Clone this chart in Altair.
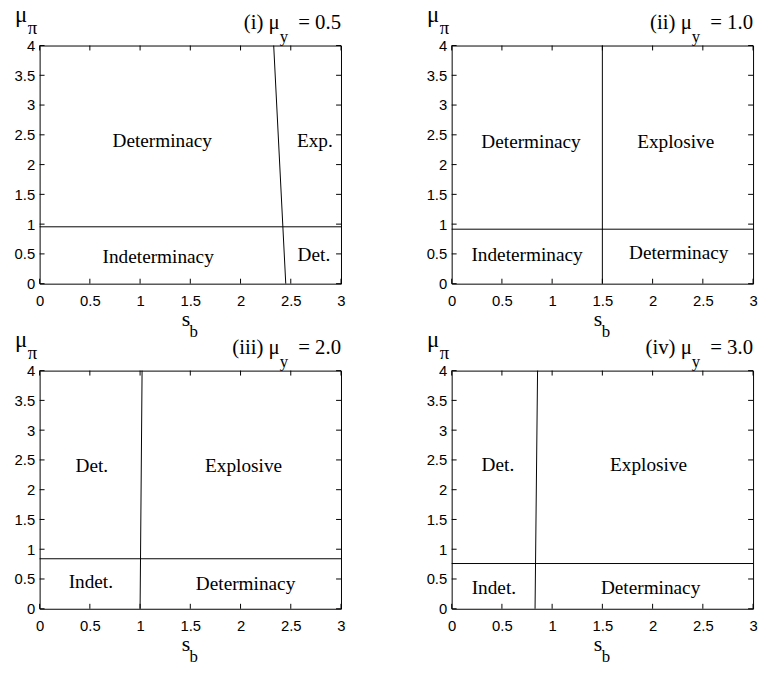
import altair as alt
import pandas as pd

# ---------------- data ----------------
x_ticks = [0, 0.5, 1, 1.5, 2, 2.5, 3]
y_ticks = [0, 0.5, 1, 1.5, 2, 2.5, 3, 3.5, 4]

panel_prefix = ["(i) μ", "(ii) μ", "(iii) μ", "(iv) μ"]
panel_mu_y = ["= 0.5", "= 1.0", "= 2.0", "= 3.0"]

# boundary between determinacy / explosive regions (s_b at mu_pi = 4 and at mu_pi = 0)
vertical_sb_top = [2.33, 1.50, 1.02, 0.855]
vertical_sb_bottom = [2.45, 1.50, 1.00, 0.83]
# boundary between determinacy / indeterminacy (mu_pi level)
horizontal_mu_pi = [0.955, 0.915, 0.84, 0.76]

region_text = [
    ["Determinacy", "Exp.", "Indeterminacy", "Det."],
    ["Determinacy", "Explosive", "Indeterminacy", "Determinacy"],
    ["Det.", "Explosive", "Indet.", "Determinacy"],
    ["Det.", "Explosive", "Indet.", "Determinacy"],
]
region_sb = [
    [1.22, 2.74, 1.18, 2.73],
    [0.79, 2.23, 0.75, 2.26],
    [0.52, 2.03, 0.51, 2.05],
    [0.46, 1.96, 0.42, 1.98],
]
region_mu = [
    [2.40, 2.40, 0.45, 0.48],
    [2.37, 2.37, 0.48, 0.52],
    [2.40, 2.40, 0.45, 0.42],
    [2.42, 2.42, 0.34, 0.34],
]

# ---------------- styling ----------------
W, H = 305, 241
SERIF = "Liberation Serif"
SANS = "Liberation Sans"
TICK = 5

xs = alt.Scale(domain=[0, 3], nice=False, zero=False)
ys = alt.Scale(domain=[0, 4], nice=False, zero=False)
xaxis = alt.Axis(values=x_ticks, title=None, grid=False, ticks=False, tickSize=0,
                 domain=False, labelFont=SANS, labelFontSize=15, labelPadding=10,
                 labelColor="black", labelFlush=False, labelOverlap=False, format="~g")
yaxis = alt.Axis(values=y_ticks, title=None, grid=False, ticks=False, tickSize=0,
                 domain=False, labelFont=SANS, labelFontSize=15, labelPadding=5,
                 labelColor="black", labelFlush=False, labelOverlap=False, format="~g")


def text_piece(txt, x, y, size, align="left"):
    return alt.Chart(pd.DataFrame({"t": [txt]})).mark_text(
        align=align, baseline="alphabetic", font=SERIF, fontSize=size, color="black"
    ).encode(x=alt.value(x), y=alt.value(y), text="t:N")


def panel(i):
    seg = pd.DataFrame({
        "x1": [vertical_sb_top[i], 0.0],
        "y1": [4.0, horizontal_mu_pi[i]],
        "x2": [vertical_sb_bottom[i], 3.0],
        "y2": [0.0, horizontal_mu_pi[i]],
    })
    lines = alt.Chart(seg).mark_rule(color="black", strokeWidth=1).encode(
        x=alt.X("x1:Q", scale=xs, axis=xaxis),
        y=alt.Y("y1:Q", scale=ys, axis=yaxis),
        x2="x2:Q",
        y2="y2:Q",
    )

    xt = alt.Chart(pd.DataFrame({"v": x_ticks}))
    yt = alt.Chart(pd.DataFrame({"v": y_ticks}))
    tick_top = xt.mark_rule(color="black", strokeWidth=1).encode(
        x=alt.X("v:Q", scale=xs, axis=xaxis), y=alt.value(0), y2=alt.value(TICK))
    tick_bot = xt.mark_rule(color="black", strokeWidth=1).encode(
        x=alt.X("v:Q", scale=xs, axis=xaxis), y=alt.value(H - TICK), y2=alt.value(H))
    tick_left = yt.mark_rule(color="black", strokeWidth=1).encode(
        y=alt.Y("v:Q", scale=ys, axis=yaxis), x=alt.value(0), x2=alt.value(TICK))
    tick_right = yt.mark_rule(color="black", strokeWidth=1).encode(
        y=alt.Y("v:Q", scale=ys, axis=yaxis), x=alt.value(W - TICK), x2=alt.value(W))

    reg = pd.DataFrame({"t": region_text[i], "sb": region_sb[i], "mu": region_mu[i]})
    regions = alt.Chart(reg).mark_text(
        align="center", baseline="middle", font=SERIF, fontSize=19.5, color="black"
    ).encode(
        x=alt.X("sb:Q", scale=xs, axis=xaxis),
        y=alt.Y("mu:Q", scale=ys, axis=yaxis),
        text="t:N",
    )

    pieces = [
        # y-axis title mu_pi
        text_piece("μ", -25, -24, 23),
        text_piece("π", -12, -12, 19),
        # x-axis title s_b
        text_piece("s", 148, H + 43, 22, align="center"),
        text_piece("b", 156, H + 54, 17, align="center"),
        # panel title
        text_piece(panel_prefix[i], 243, -17, 21, align="right"),
        text_piece("y", 243, -4, 17),
        text_piece(panel_mu_y[i], W, -17, 21, align="right"),
    ]

    return alt.layer(lines, tick_top, tick_bot, tick_left, tick_right, regions, *pieces).properties(
        width=W, height=H
    )


chart = alt.concat(
    panel(0), panel(1), panel(2), panel(3),
    columns=2,
    spacing={"row": 88, "column": 112},
    bounds="flush",
).properties(
    padding={"left": 5, "top": -9, "right": 0, "bottom": 0},
    background="white",
).configure_view(
    stroke="black", strokeWidth=1, fill="white"
)

chart.save("out.html", embed_options={"renderer": "svg", "actions": False})
